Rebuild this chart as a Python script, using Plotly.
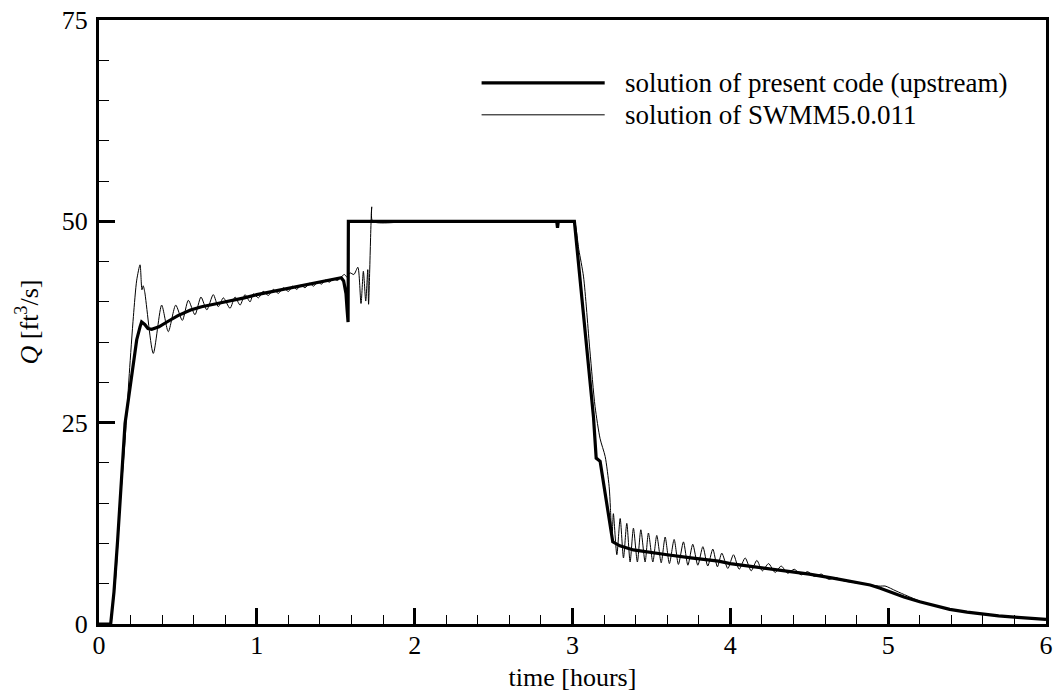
import plotly.graph_objects as go

# ---- data ----
t_present = [0, 0.074, 0.095, 0.118, 0.165, 0.239, 0.26, 0.27, 0.29, 0.31, 0.334, 0.38, 0.43, 0.5,
             0.58, 0.65, 0.75, 0.83, 0.92, 1.0, 1.1, 1.21, 1.3, 1.4, 1.5, 1.535, 1.55, 1.565, 1.572,
             1.578, 1.58, 2.0, 2.5, 2.9, 2.905, 2.91, 3.012, 3.059, 3.1, 3.133, 3.15, 3.175, 3.255,
             3.3, 3.386, 3.5, 3.6, 3.75, 3.925, 4.0, 4.15, 4.33, 4.5, 4.65, 4.76, 4.82, 4.886, 4.95,
             5.01, 5.1, 5.2, 5.3, 5.39, 5.5, 5.6, 5.7, 5.82, 5.9, 6.0]
q_present = [0, 0, 4.0, 10.4, 24.9, 35.3, 36.9, 37.5, 37.2, 36.7, 36.6, 36.9, 37.5, 38.3,
             39.0, 39.4, 39.8, 40.1, 40.5, 40.9, 41.3, 41.7, 42.0, 42.4, 42.8, 43.0, 42.6, 41.0, 39.0,
             37.5, 50, 50, 50, 50, 49.2, 50, 50, 40.2, 31.9, 25.7, 20.6, 20.2, 10.2,
             9.7, 9.2, 8.85, 8.6, 8.2, 7.8, 7.5, 7.1, 6.7, 6.2, 5.7, 5.3, 5.05, 4.84, 4.45,
             4.0, 3.35, 2.77, 2.25, 1.82, 1.48, 1.2, 1.0, 0.83, 0.7, 0.58]

t_swmm = [0, 0.07, 0.087, 0.108, 0.133, 0.165, 0.192, 0.218, 0.239, 0.26, 0.272, 0.28, 0.29,
          0.344, 0.397, 0.439, 0.486, 0.528, 0.566, 0.608, 0.646, 0.683, 0.724, 0.756, 0.788,
          0.83, 0.862, 0.894, 0.925, 0.957, 0.978, 1.01, 1.04, 1.073, 1.105, 1.136, 1.168, 1.2,
          1.227, 1.253, 1.28, 1.305, 1.333, 1.36, 1.385, 1.41, 1.435, 1.46, 1.485, 1.51, 1.535,
          1.555, 1.57, 1.59, 1.615, 1.64, 1.66, 1.675, 1.69, 1.703, 1.708, 1.728, 1.734,
          2.0, 2.5, 3.0, 3.012, 3.04, 3.07, 3.11, 3.143, 3.175, 3.207, 3.232, 3.24, 3.25,
          3.259, 3.281, 3.302, 3.323, 3.344, 3.365, 3.386, 3.411, 3.433, 3.46, 3.481, 3.509,
          3.534, 3.562, 3.587, 3.614, 3.644, 3.671, 3.703, 3.731, 3.762, 3.794, 3.826, 3.857,
          3.889, 3.918, 3.946, 3.984, 4.02, 4.056, 4.094, 4.132, 4.168, 4.203, 4.242, 4.284,
          4.322, 4.364, 4.405, 4.449, 4.489, 4.533, 4.576, 4.622, 4.669, 4.72, 4.8, 4.886,
          4.95, 4.98, 5.05, 5.12, 5.2, 5.3, 5.39, 5.5, 5.6, 5.7, 5.82, 5.9, 6.0]
q_swmm = [0, 0, 2.1, 6.3, 14.6, 22.8, 31.1, 38.2, 42.7, 44.6, 41.5, 42.0, 41.2,
          33.6, 39.6, 36.3, 39.6, 37.7, 40.2, 38.4, 40.6, 39.0, 40.9, 39.4, 40.5,
          39.2, 40.6, 39.6, 40.9, 40.0, 41.0, 40.5, 41.3, 40.8, 41.55, 41.05, 41.75, 41.3,
          41.95, 41.55, 42.1, 41.75, 42.3, 41.95, 42.5, 42.2, 42.7, 42.45, 42.85, 42.65, 43.1,
          43.4, 43.1, 43.6, 43.4, 44.3, 39.8, 43.8, 40.1, 44.0, 39.7, 51.8, 50.0,
          50, 50, 50, 50, 46.5, 43.1, 34.0, 27.0, 23.0, 20.8, 17.1, 14.5, 10.5,
          13.7, 8.6, 13.1, 8.2, 12.5, 7.7, 11.9, 7.7, 11.7, 7.7, 11.3, 7.7,
          11.0, 7.6, 10.8, 7.5, 10.5, 7.4, 10.2, 7.3, 9.9, 7.3, 9.6, 7.2,
          9.3, 7.1, 8.8, 6.9, 8.6, 6.8, 8.2, 6.6, 7.9, 6.6, 7.5, 6.4,
          7.2, 6.3, 6.8, 6.1, 6.5, 5.9, 6.2, 5.55, 5.75, 5.35, 5.1, 4.85,
          4.7, 4.72, 4.1, 3.5, 2.85, 2.25, 1.82, 1.48, 1.2, 1.0, 0.83, 0.7, 0.58]

x_ticks = [0, 1, 2, 3, 4, 5, 6]
y_ticks = [0, 25, 50, 75]
legend_names = ["solution of present code (upstream)", "solution of SWMM5.0.011"]

FONT = "Liberation Serif"
FS = 26

fig = go.Figure()
fig.add_trace(go.Scatter(x=t_swmm, y=q_swmm, mode="lines", name=legend_names[1],
                         line=dict(color="black", width=1, shape="spline", smoothing=0.7),
                         showlegend=False))
fig.add_trace(go.Scatter(x=t_present, y=q_present, mode="lines", name=legend_names[0],
                         line=dict(color="black", width=3.2), showlegend=False))

# custom legend (long line samples like the original)
legend_rows = [(0.896, 3.2), (0.843, 1)]
for (yp, w), name in zip(legend_rows, legend_names):
    fig.add_shape(type="line", xref="paper", yref="paper", x0=0.404, x1=0.534, y0=yp, y1=yp,
                  line=dict(color="black", width=w))
    fig.add_annotation(xref="paper", yref="paper", x=0.553, y=yp, text=name, showarrow=False,
                       xanchor="left", yanchor="middle", font=dict(family=FONT, size=27, color="black"))

axis_common = dict(showgrid=False, zeroline=False, showline=True, linecolor="black", linewidth=3,
                   mirror=True, ticks="inside", tickcolor="black", tickwidth=2.5, ticklen=16,
                   automargin=False,
                   tickfont=dict(family=FONT, size=FS, color="black"))
fig.update_xaxes(range=[0, 6], tickvals=x_ticks, ticklabelstandoff=-4,
                 minor=dict(dtick=0.2, ticks="inside", ticklen=9, tickwidth=1, tickcolor="black"),
                 title=dict(text="time [hours]", font=dict(family=FONT, size=FS, color="black"), standoff=9),
                 **axis_common)
fig.update_yaxes(range=[0, 75], tickvals=y_ticks, ticklabelstandoff=3,
                 minor=dict(dtick=5, ticks="inside", ticklen=10, tickwidth=1, tickcolor="black"),
                 title=dict(text="<i>Q</i> [ft<sup>3</sup>/s]", font=dict(family=FONT, size=FS, color="black"), standoff=16),
                 **axis_common)

fig.update_layout(width=1057, height=696, autosize=False,
                  margin=dict(l=99, r=11, t=20, b=72),
                  plot_bgcolor="white", paper_bgcolor="white",
                  font=dict(family=FONT, size=FS, color="black"))

fig.write_html("out.html", config={"displayModeBar": False},
               post_script="document.body.style.margin='0';document.body.style.overflow='hidden';")
